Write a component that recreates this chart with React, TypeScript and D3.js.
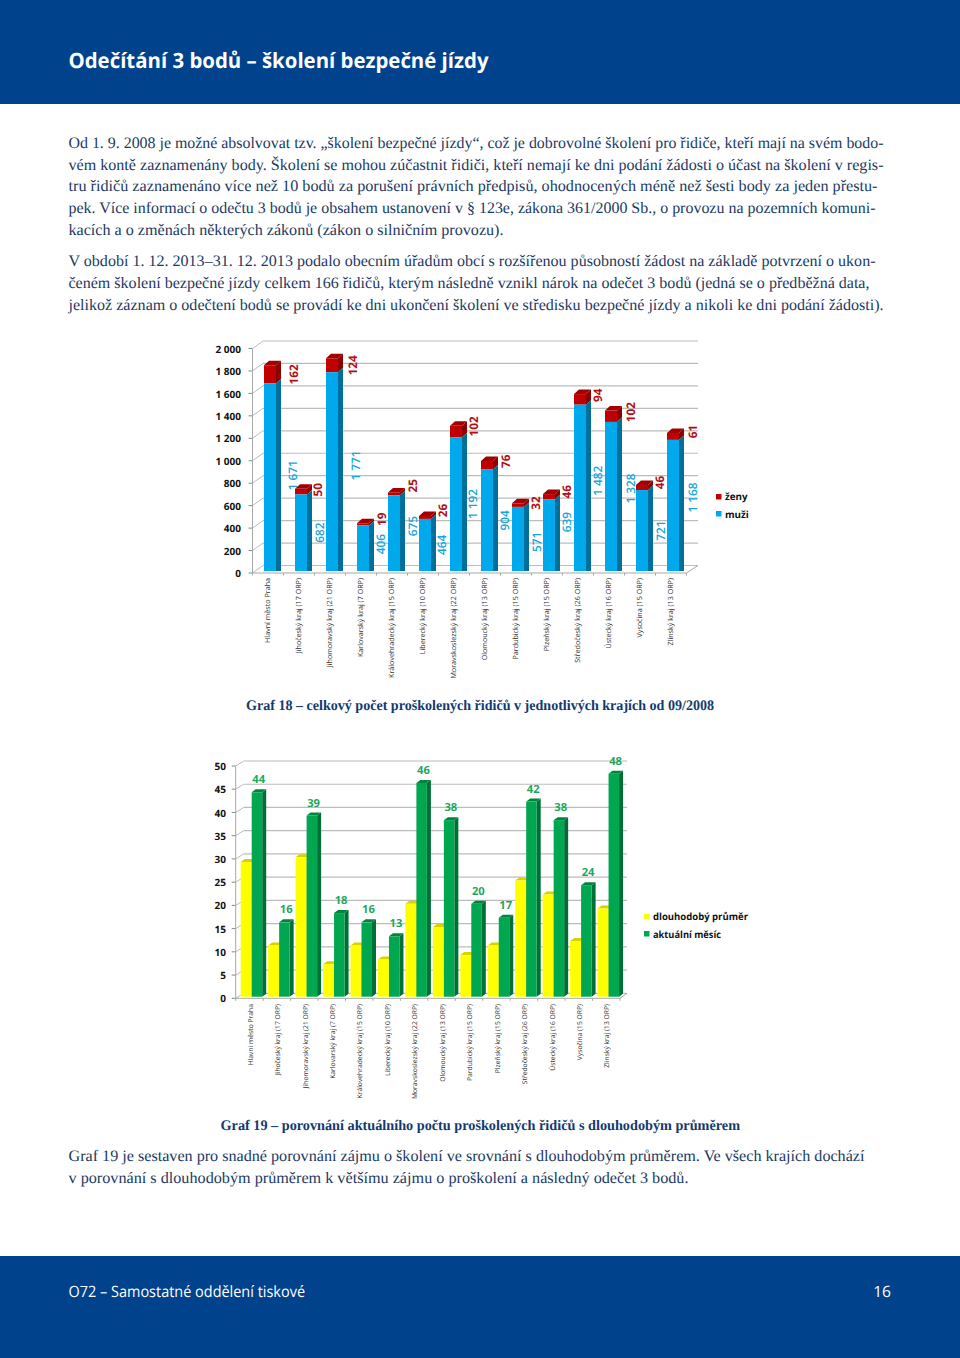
import React from "react";
import * as d3 from "d3";

const regionsA = ["Hlavní město Praha","Jihočeský kraj (17 ORP)","Jihomoravský kraj (21 ORP)","Karlovarský kraj (7 ORP)","Královehradecký kraj (15 ORP)","Liberecký kraj (10 ORP)","Moravskoslezský kraj (22 ORP)","Olomoucký kraj (13 ORP)","Pardubický kraj (15 ORP)","Plzeňský kraj (15 ORP)","Středočeský kraj (26 ORP)","Ústecký kraj (16 ORP)","Vysočina (15 ORP)","Zlínský kraj (13 ORP)"];
const men = [1671,682,1771,406,675,464,1192,904,571,639,1482,1328,721,1168];
const women = [162,50,124,19,25,26,102,76,32,46,94,102,46,61];
const longTerm = [29,11,30,7,11,8,20,15,9,11,25,22,12,19];
const currentMonth = [44,16,39,18,16,13,46,38,20,17,42,38,24,48];
const ticksA = d3.range(0, 2001, 200);
const ticksB = d3.range(0, 51, 5);

// label placement tweaks (not data)
const menNudgeX = [4,0,5,-1,0,-2,-2,-1,0,-1,-1,1,0,1];
const menNudgeY = [-2,0,-6,-4,-7,0,0,0,3,-13,-7,-8,0,-8];
const womenNudgeX = [5,-2,2,0,0,-1,-1,0,-1,-1,-1,1,-1,1];
const womenNudgeY = [0,-2,0,-5,-8,-7,-5,-4,-2,-5,-4,-4,-5,-5];

const paragraph = [
  ["Od 1. 9. 2008 je možné absolvovat tzv. „školení bezpečné jízdy“, což je dobrovolné školení pro řidiče, kteří mají na svém bodo-",148,815],
  ["vém kontě zaznamenány body. Školení se mohou zúčastnit řidiči, kteří nemají ke dni podání žádosti o účast na školení v regis-",170,815],
  ["tru řidičů zaznamenáno více než 10 bodů za porušení právních předpisů, ohodnocených méně než šesti body za jeden přestu-",191,809],
  ["pek. Více informací o odečtu 3 bodů je obsahem ustanovení v § 123e, zákona 361/2000 Sb., o provozu na pozemních komuni-",213,807],
  ["kacích a o změnách některých zákonů (zákon o silničním provozu).",235,435],
  ["V období 1. 12. 2013–31. 12. 2013 podalo obecním úřadům obcí s rozšířenou působností žádost na základě potvrzení o ukon-",266,807],
  ["čeném školení bezpečné jízdy celkem 166 řidičů, kterým následně vznikl nárok na odečet 3 bodů (jedná se o předběžná data,",288,801],
  ["jelikož záznam o odečtení bodů se provádí ke dni ukončení školení ve středisku bezpečné jízdy a nikoli ke dni podání žádosti).",310,815],
  ["Graf 19 je sestaven pro snadné porovnání zájmu o školení ve srovnání s dlouhodobým průměrem. Ve všech krajích dochází",1161,796],
  ["v porovnání s dlouhodobým průměrem k většímu zájmu o proškolení a následný odečet 3 bodů.",1183,620],
] as [string, number, number][];

const NAVY = "#00428c";
const TEXT = "#1b3a63";
const SANS = "'Open Sans', sans-serif";
const SERIF = "'Liberation Serif', serif";
const GRID = "#bcbcbc";
const AXIS = "#a8a8a8";

function Bar3D({ x, w, y0, y1, d, dy, front, side, top }: any) {
  return (
    <g>
      <polygon points={`${x + w},${y0} ${x + w + d},${y0 - dy} ${x + w + d},${y1 - dy} ${x + w},${y1}`} fill={side} />
      <polygon points={`${x},${y1} ${x + d},${y1 - dy} ${x + w + d},${y1 - dy} ${x + w},${y1}`} fill={top} />
      <rect x={x} y={y1} width={w} height={y0 - y1} fill={front} />
    </g>
  );
}

function Frame({ ticks, y, wallX, backDx, backDy, endX, floorY, tickStep, nTicks, fmt, labelX }: any) {
  return (
    <g>
      {ticks.map((t: number) => (
        <g key={t}>
          <line x1={wallX + backDx} x2={endX} y1={y(t) - backDy} y2={y(t) - backDy} stroke={GRID} strokeWidth={1.2} />
          <line x1={wallX} x2={wallX + backDx} y1={y(t)} y2={y(t) - backDy} stroke={GRID} strokeWidth={1} />
          <line x1={wallX - 4} x2={wallX} y1={y(t)} y2={y(t)} stroke="#888" strokeWidth={1} />
          <text x={labelX} y={y(t) + 0.5} dy="0.36em" textAnchor="end" fontFamily={SANS} fontWeight={700} fontSize={10} fill="#111">{fmt(t)}</text>
        </g>
      ))}
      <line x1={wallX} x2={wallX} y1={y(ticks[ticks.length - 1])} y2={floorY} stroke={AXIS} strokeWidth={1} />
      <line x1={wallX} x2={wallX + tickStep * nTicks} y1={floorY} y2={floorY} stroke={AXIS} strokeWidth={1} />
      <line x1={wallX + tickStep * nTicks} x2={endX} y1={floorY} y2={floorY - backDy} stroke={AXIS} strokeWidth={1} />
      {d3.range(nTicks + 1).map((i) => (
        <line key={i} x1={wallX + i * tickStep} x2={wallX + i * tickStep} y1={floorY} y2={floorY + 2.5} stroke={AXIS} strokeWidth={1} />
      ))}
    </g>
  );
}

function CatLabels({ band, top, size }: any) {
  return (
    <g>
      {regionsA.map((r) => (
        <text key={r} transform={`translate(${band(r)},${top}) rotate(-90)`} textAnchor="end" dy="0.36em" fontFamily={SANS} fontSize={size} fill="#333">{r}</text>
      ))}
    </g>
  );
}

function ChartA() {
  const y = d3.scaleLinear().domain([0, 2000]).range([573, 348.5]);
  const yBar = (v: number) => y(v) - 2;
  const x = d3.scaleBand().domain(regionsA).range([252, 686]).paddingInner(0).paddingOuter(0);
  const bx = (r: string) => (x(r) as number) + 12;
  const fmt = (t: number) => d3.format(",")(t).replace(",", " ");
  const w = 12, d = 5, dy = 4.5;
  return (
    <g>
      <Frame ticks={ticksA} y={y} wallX={252.5} backDx={10.5} backDy={7.5} endX={698} floorY={573} tickStep={31} nTicks={14} fmt={fmt} labelX={241} />
      {regionsA.map((r, i) => {
        const x0 = bx(r);
        return (
          <g key={r}>
            <Bar3D x={x0} w={w} d={d} dy={dy} y0={yBar(men[i])} y1={yBar(men[i] + women[i])} front="#c00000" side="#8c0000" top="#a20000" />
            <Bar3D x={x0} w={w} d={d} dy={0} y0={yBar(0)} y1={yBar(men[i])} front="#00a9ec" side="#006f9a" top="#0090c8" />
            <polygon points={`${x0 + w},${yBar(0)} ${x0 + w + d},${yBar(0) - dy} ${x0 + w + d},${yBar(men[i]) - dy} ${x0 + w},${yBar(men[i])}`} fill="#006f9a" />
          </g>
        );
      })}
      {regionsA.map((r, i) => (
        <g key={r} fontFamily={SANS} fontSize={11.8}>
          <text transform={`translate(${bx(r) + 25 + menNudgeX[i]},${yBar(men[i] / 2) + menNudgeY[i]}) rotate(-90)`} textAnchor="middle" dy="0.36em" fontWeight={600} fill="#17a6dc">{fmt(men[i])}</text>
          <text transform={`translate(${bx(r) + 25 + womenNudgeX[i]},${yBar(men[i] + women[i] / 2) + womenNudgeY[i]}) rotate(-90)`} textAnchor="middle" dy="0.36em" fontWeight={700} fill="#b30f14">{women[i]}</text>
        </g>
      ))}
      <CatLabels band={(r: string) => bx(r) + 3} top={578} size={7.15} />
      <rect x={716} y={494} width={5.5} height={5.5} fill="#c00000" />
      <rect x={716} y={511} width={5.5} height={5.5} fill="#00a9ec" />
      <g fontFamily={SANS} fontWeight={700} fontSize={9.8} fill="#111">
        <text x={725} y={496.8} dy="0.36em">ženy</text>
        <text x={725} y={514} dy="0.36em">muži</text>
      </g>
    </g>
  );
}

function ChartB() {
  const y = d3.scaleLinear().domain([0, 50]).range([998.3, 766]);
  const yBar = (v: number) => y(v) - 1.6;
  const x = d3.scaleBand().domain(regionsA).range([235.7, 235.7 + 27.45 * 14]);
  const bx = (r: string) => (x(r) as number) + 5;
  const w = 11, d = 4, dy = 3;
  return (
    <g>
      <Frame ticks={ticksB} y={y} wallX={235.7} backDx={8} backDy={5} endX={627} floorY={998.3} tickStep={27.45} nTicks={14} fmt={String} labelX={226} />
      {regionsA.map((r, i) => {
        const x0 = bx(r);
        return (
          <g key={r}>
            <Bar3D x={x0} w={w} d={d} dy={dy} y0={yBar(0)} y1={yBar(longTerm[i])} front="#ffff00" side="#b8b800" top="#d8d200" />
            <Bar3D x={x0 + w} w={10.5} d={d} dy={dy} y0={yBar(0)} y1={yBar(currentMonth[i])} front="#00a650" side="#006f35" top="#00853f" />
          </g>
        );
      })}
      {regionsA.map((r, i) => (
        <text key={r} x={bx(r) + 18} y={yBar(currentMonth[i]) - 13} dy="0.36em" textAnchor="middle" fontFamily={SANS} fontWeight={700} fontSize={11.2} fill="#1ea85c">{currentMonth[i]}</text>
      ))}
      <CatLabels band={(r: string) => bx(r) + 9.5} top={1004} size={6.75} />
      <rect x={644} y={913.7} width={5.5} height={5.5} fill="#ffff00" />
      <rect x={644} y={931} width={5.5} height={5.5} fill="#00a650" />
      <g fontFamily={SANS} fontWeight={700} fontSize={9.8} fill="#111">
        <text x={653} y={916.7} dy="0.36em" textLength={95} lengthAdjust="spacingAndGlyphs">dlouhodobý průměr</text>
        <text x={653} y={934} dy="0.36em" textLength={68} lengthAdjust="spacingAndGlyphs">aktuální měsíc</text>
      </g>
    </g>
  );
}

export default function App() {
  return (
    <svg width={960} height={1358} viewBox="0 0 960 1358" textRendering="geometricPrecision" style={{ position: "absolute", left: 0, top: 0, display: "block" }}>
      <rect width={960} height={1358} fill="#fff" />
      <rect width={960} height={104} fill={NAVY} />
      <rect y={1256} width={960} height={102} fill={NAVY} />
      <text x={68.5} y={68} fontFamily={SANS} fontWeight={700} fontSize={21} fill="#fff" textLength={420} lengthAdjust="spacingAndGlyphs">Odečítání 3 bodů – školení bezpečné jízdy</text>
      {paragraph.map(([t, yy, len]) => (
        <text key={t} x={68.5} y={yy} fontFamily={SERIF} fontSize={16} fill={TEXT} textLength={len} lengthAdjust="spacingAndGlyphs">{t}</text>
      ))}
      <ChartA />
      <text x={246} y={710} fontFamily={SERIF} fontWeight={700} fontSize={14.6} fill="#123a70" textLength={468} lengthAdjust="spacingAndGlyphs">Graf 18 – celkový počet proškolených řidičů v jednotlivých krajích od 09/2008</text>
      <ChartB />
      <text x={220.5} y={1130} fontFamily={SERIF} fontWeight={700} fontSize={14.6} fill="#123a70" textLength={519.5} lengthAdjust="spacingAndGlyphs">Graf 19 – porovnání aktuálního počtu proškolených řidičů s dlouhodobým průměrem</text>
      <text x={68.5} y={1297} fontFamily={SANS} fontSize={15.6} fill="#fff" textLength={236.5} lengthAdjust="spacingAndGlyphs">O72 – Samostatné oddělení tiskové</text>
      <text x={891} y={1297} textAnchor="end" fontFamily={SANS} fontSize={15.6} fill="#fff">16</text>
    </svg>
  );
}
